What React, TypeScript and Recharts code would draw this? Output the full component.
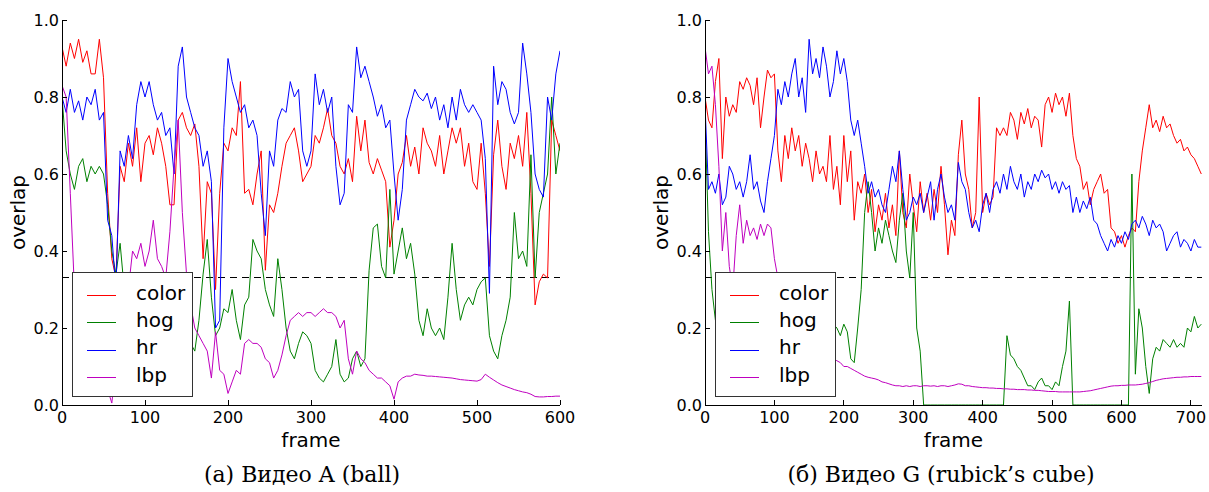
import { type ReactElement } from 'react';

import { Legend, Line, LineChart, ReferenceLine, XAxis, YAxis } from 'recharts';

const FONT = '"DejaVu Sans", "Bitstream Vera Sans", sans-serif';
const SERIF = '"DejaVu Serif", serif';
const TICK_LEN = 5;
const AXIS_LINE = { stroke: '#000', shapeRendering: 'crispEdges' } as const;

/** Frames are sampled every STEP frames in both videos. */
const STEP = 5;

// (a) Видео A (ball), frames 0..600
const COLOR_A = [
  0.93, 0.88, 0.94, 0.9, 0.95, 0.89, 0.92, 0.86, 0.86, 0.95,
  0.85, 0.55, 0.38, 0.33, 0.62, 0.58, 0.68, 0.62, 0.72, 0.58,
  0.68, 0.7, 0.65, 0.72, 0.68, 0.62, 0.52, 0.52, 0.74, 0.76,
  0.72, 0.7, 0.73, 0.62, 0.38, 0.58, 0.55, 0.3, 0.55, 0.68,
  0.66, 0.72, 0.7, 0.84, 0.55, 0.56, 0.52, 0.6, 0.66, 0.35,
  0.52, 0.5, 0.55, 0.62, 0.68, 0.7, 0.72, 0.66, 0.58, 0.6,
  0.62, 0.7, 0.68, 0.72, 0.77, 0.7, 0.68, 0.62, 0.6, 0.64,
  0.58, 0.75, 0.66, 0.74, 0.63, 0.6, 0.64, 0.61, 0.58, 0.41,
  0.48, 0.6, 0.63, 0.7, 0.62, 0.67, 0.6, 0.72, 0.68, 0.66,
  0.62, 0.7, 0.6, 0.66, 0.72, 0.68, 0.72, 0.62, 0.68, 0.58,
  0.56, 0.68, 0.55, 0.36, 0.65, 0.74, 0.62, 0.56, 0.68, 0.64,
  0.7, 0.62, 0.76, 0.55, 0.26, 0.32, 0.34, 0.33, 0.74, 0.7,
  0.66,
];
const HOG_A = [
  0.8, 0.66, 0.6, 0.56, 0.62, 0.64, 0.58, 0.62, 0.6, 0.62,
  0.6, 0.52, 0.4, 0.34, 0.42, 0.3, 0.26, 0.28, 0.22, 0.25,
  0.2, 0.24, 0.18, 0.22, 0.2, 0.18, 0.22, 0.2, 0.18, 0.22,
  0.2, 0.16, 0.14, 0.22, 0.34, 0.43, 0.28, 0.18, 0.2, 0.25,
  0.24, 0.3, 0.22, 0.17, 0.26, 0.28, 0.43, 0.4, 0.38, 0.3,
  0.26, 0.23, 0.38, 0.3, 0.2, 0.14, 0.12, 0.16, 0.19, 0.18,
  0.16, 0.09, 0.07, 0.06, 0.08, 0.1, 0.17, 0.08, 0.06, 0.07,
  0.12, 0.14, 0.1, 0.12, 0.35, 0.46, 0.47, 0.36, 0.33, 0.56,
  0.34, 0.4, 0.46, 0.38, 0.42, 0.34, 0.22, 0.18, 0.25, 0.2,
  0.18, 0.2, 0.17, 0.28, 0.42, 0.3, 0.22, 0.26, 0.28, 0.26,
  0.3, 0.32, 0.33, 0.18, 0.14, 0.12, 0.18, 0.22, 0.28, 0.5,
  0.38, 0.4, 0.36, 0.65, 0.33, 0.5, 0.55, 0.6, 0.8, 0.6,
  0.68,
];
const HR_A = [
  0.8, 0.76, 0.82, 0.76, 0.79, 0.74, 0.8, 0.78, 0.82, 0.74,
  0.76, 0.48, 0.44, 0.3, 0.66, 0.62, 0.7, 0.64, 0.78, 0.84,
  0.8, 0.84, 0.78, 0.74, 0.76, 0.7, 0.72, 0.6, 0.88, 0.93,
  0.8, 0.76, 0.72, 0.7, 0.62, 0.66, 0.58, 0.2, 0.22, 0.72,
  0.9, 0.84, 0.8, 0.76, 0.78, 0.72, 0.74, 0.7, 0.55, 0.44,
  0.66, 0.62, 0.74, 0.77, 0.76, 0.84, 0.8, 0.82, 0.66, 0.62,
  0.66, 0.86, 0.78, 0.82, 0.76, 0.8, 0.62, 0.52, 0.55, 0.78,
  0.76, 0.93, 0.85, 0.88, 0.84, 0.8, 0.75, 0.78, 0.72, 0.74,
  0.6, 0.48, 0.56, 0.74, 0.78, 0.82, 0.8, 0.79, 0.81, 0.77,
  0.8, 0.74, 0.78, 0.72, 0.8, 0.74, 0.82, 0.78, 0.76, 0.78,
  0.76, 0.74, 0.64, 0.29, 0.88, 0.78, 0.84, 0.82, 0.76, 0.73,
  0.76, 0.94, 0.86, 0.76, 0.6, 0.56, 0.54, 0.8, 0.74, 0.86,
  0.92,
];
const LBP_A = [
  0.83, 0.8, 0.55, 0.3, 0.22, 0.15, 0.1, 0.05, 0.12, 0.08,
  0.06, 0.04, 0.005, 0.1, 0.28, 0.32, 0.3, 0.4, 0.38, 0.42,
  0.36, 0.4, 0.48, 0.38, 0.36, 0.33, 0.45, 0.62, 0.74, 0.5,
  0.34, 0.26, 0.2, 0.18, 0.16, 0.14, 0.07, 0.19, 0.09, 0.08,
  0.03, 0.06, 0.09, 0.08, 0.16, 0.17, 0.16, 0.16, 0.15, 0.12,
  0.11, 0.07, 0.09, 0.13, 0.18, 0.22, 0.23, 0.24, 0.23, 0.24,
  0.24, 0.23, 0.24, 0.25, 0.24, 0.24, 0.23, 0.2, 0.22, 0.12,
  0.08, 0.14, 0.12, 0.11, 0.09, 0.08, 0.07, 0.07, 0.06, 0.05,
  0.015, 0.06, 0.07, 0.075, 0.075, 0.08, 0.078, 0.077, 0.075, 0.075,
  0.074, 0.073, 0.072, 0.071, 0.07, 0.068, 0.066, 0.065, 0.064, 0.063,
  0.062, 0.066, 0.08, 0.072, 0.065, 0.058, 0.052, 0.048, 0.044, 0.04,
  0.037, 0.034, 0.032, 0.028, 0.022, 0.021, 0.021, 0.022, 0.022, 0.023,
  0.023,
];

// (б) Видео G (rubick's cube), frames 0..715
const COLOR_G = [
  0.8, 0.74, 0.72, 0.84, 0.9, 0.64, 0.8, 0.75, 0.78, 0.76,
  0.84, 0.82, 0.85, 0.83, 0.78, 0.85, 0.72, 0.8, 0.87, 0.85,
  0.86, 0.66, 0.58, 0.7, 0.64, 0.72, 0.66, 0.7, 0.62, 0.68,
  0.64, 0.58, 0.66, 0.6, 0.62, 0.58, 0.7, 0.56, 0.62, 0.52,
  0.7, 0.58, 0.66, 0.48, 0.58, 0.55, 0.6, 0.5, 0.56, 0.45,
  0.52, 0.48, 0.55, 0.46, 0.52, 0.44, 0.66, 0.5, 0.46, 0.6,
  0.52, 0.45, 0.58, 0.5, 0.55, 0.48, 0.56, 0.5, 0.62, 0.52,
  0.39, 0.48, 0.44, 0.65, 0.74, 0.6, 0.56, 0.46, 0.5, 0.8,
  0.5, 0.55, 0.52, 0.54, 0.72, 0.7, 0.72, 0.7, 0.76, 0.74,
  0.69, 0.76, 0.73, 0.77, 0.72, 0.75, 0.74, 0.67, 0.78, 0.8,
  0.76, 0.81, 0.78, 0.8, 0.75, 0.81, 0.7, 0.64, 0.62, 0.56,
  0.58, 0.52, 0.56, 0.58, 0.6, 0.55, 0.56, 0.46, 0.45, 0.42,
  0.44, 0.41, 0.44, 0.46, 0.45, 0.58, 0.66, 0.72, 0.78, 0.72,
  0.74, 0.71, 0.75, 0.72, 0.73, 0.7, 0.68, 0.69, 0.66, 0.67,
  0.65, 0.64, 0.62, 0.6,
];
const HOG_G = [
  0.75, 0.45, 0.3, 0.22, 0.21, 0.2, 0.22, 0.19, 0.21, 0.2,
  0.18, 0.21, 0.2, 0.22, 0.19, 0.2, 0.21, 0.18, 0.2, 0.22,
  0.19, 0.2, 0.21, 0.19, 0.2, 0.22, 0.2, 0.19, 0.21, 0.2,
  0.18, 0.2, 0.21, 0.19, 0.2, 0.22, 0.2, 0.21, 0.2, 0.18,
  0.21, 0.19, 0.12, 0.11, 0.2, 0.3, 0.5, 0.58, 0.5, 0.4,
  0.46, 0.42, 0.48, 0.44, 0.4, 0.37, 0.48, 0.55, 0.4, 0.33,
  0.5, 0.2, 0.14, 0, 0, 0, 0, 0, 0, 0,
  0, 0, 0, 0, 0, 0, 0, 0, 0, 0,
  0, 0, 0, 0, 0, 0, 0, 0.18, 0.13, 0.12,
  0.1, 0.09, 0.07, 0.05, 0.05, 0.04, 0.06, 0.07, 0.05, 0.05,
  0.04, 0.06, 0.05, 0.1, 0.14, 0.27, 0, 0, 0, 0,
  0, 0, 0, 0, 0, 0, 0, 0, 0, 0,
  0, 0, 0, 0.6, 0.08, 0.25, 0.2, 0.1, 0.03, 0.12,
  0.15, 0.14, 0.17, 0.16, 0.15, 0.17, 0.15, 0.16, 0.15, 0.2,
  0.19, 0.23, 0.2, 0.21,
];
const HR_G = [
  0.78, 0.56, 0.58, 0.55, 0.6, 0.52, 0.54, 0.62, 0.6, 0.56,
  0.58, 0.54, 0.58, 0.65, 0.56, 0.58, 0.53, 0.5, 0.58, 0.64,
  0.7, 0.82, 0.78, 0.84, 0.8, 0.86, 0.9, 0.8, 0.85, 0.76,
  0.95, 0.86, 0.9, 0.85, 0.93, 0.88, 0.8, 0.84, 0.92, 0.86,
  0.9, 0.84, 0.74, 0.7, 0.74, 0.68, 0.62, 0.55, 0.58, 0.54,
  0.56, 0.52, 0.5, 0.56, 0.62, 0.58, 0.66, 0.56, 0.48, 0.5,
  0.54, 0.52, 0.55, 0.5, 0.54, 0.58, 0.48, 0.56, 0.6, 0.54,
  0.5, 0.52, 0.48, 0.63, 0.58, 0.56, 0.5, 0.46, 0.48, 0.45,
  0.52, 0.55, 0.5, 0.56, 0.58, 0.55, 0.6, 0.56, 0.62, 0.58,
  0.56, 0.6, 0.54, 0.58, 0.56, 0.6, 0.58, 0.61, 0.59, 0.6,
  0.56, 0.58, 0.55, 0.58, 0.56, 0.57, 0.5, 0.54, 0.5, 0.53,
  0.51, 0.54, 0.48, 0.47, 0.44, 0.42, 0.4, 0.43, 0.41, 0.44,
  0.42, 0.45, 0.43, 0.47, 0.48, 0.46, 0.49, 0.47, 0.44, 0.48,
  0.46, 0.47, 0.45, 0.4, 0.42, 0.44, 0.45, 0.41, 0.43, 0.42,
  0.4, 0.43, 0.41, 0.41,
];
const LBP_G = [
  0.93, 0.86, 0.88, 0.78, 0.62, 0.4, 0.5, 0.36, 0.3, 0.44,
  0.52, 0.42, 0.48, 0.44, 0.46, 0.43, 0.47, 0.44, 0.47, 0.46,
  0.38, 0.33, 0.28, 0.25, 0.22, 0.2, 0.18, 0.17, 0.16, 0.15,
  0.14, 0.14, 0.13, 0.13, 0.12, 0.12, 0.12, 0.12, 0.115, 0.11,
  0.1, 0.1, 0.095, 0.09, 0.085, 0.08, 0.075, 0.072, 0.07, 0.068,
  0.065, 0.06, 0.058, 0.055, 0.052, 0.05, 0.05, 0.048, 0.05, 0.048,
  0.05, 0.05, 0.048, 0.05, 0.05, 0.049, 0.05, 0.048, 0.05, 0.05,
  0.048, 0.05, 0.052, 0.055, 0.054, 0.05, 0.05, 0.048, 0.047, 0.046,
  0.045, 0.045, 0.044, 0.044, 0.043, 0.043, 0.042, 0.042, 0.041, 0.041,
  0.04, 0.04, 0.04, 0.039, 0.039, 0.038, 0.038, 0.037, 0.036, 0.035,
  0.035, 0.035, 0.034, 0.034, 0.034, 0.034, 0.034, 0.034, 0.034, 0.035,
  0.036, 0.037, 0.039, 0.041, 0.043, 0.045, 0.047, 0.049, 0.05, 0.05,
  0.051, 0.051, 0.052, 0.052, 0.052, 0.053, 0.054, 0.056, 0.058, 0.061,
  0.064, 0.066, 0.068, 0.069, 0.07, 0.071, 0.072, 0.072, 0.073, 0.073,
  0.074, 0.074, 0.074, 0.074,
];

const X_TICKS_A = [0, 100, 200, 300, 400, 500, 600];
const X_TICKS_G = [0, 100, 200, 300, 400, 500, 600, 700];
const Y_TICKS = [0, 0.2, 0.4, 0.6, 0.8, 1];
const THRESHOLD = 0.33;

const SERIES = [
  { key: 'color', stroke: '#ff0000' },
  { key: 'hog', stroke: '#008000' },
  { key: 'hr', stroke: '#0000ff' },
  { key: 'lbp', stroke: '#bf00bf' },
] as const;

interface Row {
  frame: number;
  color: number;
  hog: number;
  hr: number;
  lbp: number;
}

function buildRows(color: number[], hog: number[], hr: number[], lbp: number[]): Row[] {
  return color.map((value, i) => ({ frame: i * STEP, color: value, hog: hog[i], hr: hr[i], lbp: lbp[i] }));
}

// matplotlib-style ticks: short marks pointing into the plot
function BottomTick({ x, y, payload }: any): ReactElement {
  return (
    <g>
      <line x1={x} x2={x} y1={y} y2={y - TICK_LEN} stroke="#000" shapeRendering="crispEdges" />
      <text x={x} y={y + 18} textAnchor="middle" fontSize={16} fontFamily={FONT} fill="#000">
        {payload.value}
      </text>
    </g>
  );
}

function LeftTick({ x, y, payload }: any): ReactElement {
  return (
    <g>
      <line x1={x} x2={x + TICK_LEN} y1={y} y2={y} stroke="#000" shapeRendering="crispEdges" />
      <text x={x - 3} y={y} dy="0.36em" textAnchor="end" fontSize={16} fontFamily={FONT} fill="#000">
        {Number(payload.value).toFixed(1)}
      </text>
    </g>
  );
}

function TopTick({ x, y }: any): ReactElement {
  return <line x1={x} x2={x} y1={y} y2={y + TICK_LEN} stroke="#000" shapeRendering="crispEdges" />;
}

function RightTick({ x, y }: any): ReactElement {
  return <line x1={x} x2={x - TICK_LEN} y1={y} y2={y} stroke="#000" shapeRendering="crispEdges" />;
}

function FrameLabel({ viewBox }: any): ReactElement {
  return (
    <text x={viewBox.x + viewBox.width / 2} y={viewBox.y + 42} textAnchor="middle" fontSize={20} fontFamily={FONT} fill="#000">
      frame
    </text>
  );
}

function OverlapLabel({ viewBox }: any): ReactElement {
  const cx = viewBox.x + viewBox.width - 44;
  const cy = viewBox.y + viewBox.height / 2;
  return (
    <text
      x={cx}
      y={cy}
      transform={`rotate(-90 ${cx} ${cy})`}
      textAnchor="middle"
      dominantBaseline="central"
      fontSize={20}
      fontFamily={FONT}
      fill="#000"
    >
      overlap
    </text>
  );
}

function LegendBox(): ReactElement {
  return (
    <div
      style={{
        width: 121,
        height: 125,
        boxSizing: 'border-box',
        border: '1.5px solid #333',
        background: '#fff',
        position: 'relative',
        fontFamily: FONT,
        fontSize: 20,
        color: '#000',
      }}
    >
      {SERIES.map((s, i) => (
        <div
          key={s.key}
          style={{ position: 'absolute', left: 0, top: 9 + i * 27.4, height: 27, display: 'flex', alignItems: 'center' }}
        >
          <svg width={63} height={27} style={{ display: 'block' }}>
            <line x1={14} x2={43} y1={13.5} y2={13.5} stroke={s.stroke} strokeWidth={1} />
          </svg>
          <span style={{ position: 'relative', top: -3, lineHeight: '24px' }}>{s.key}</span>
        </div>
      ))}
    </div>
  );
}

interface PanelProps {
  rows: Row[];
  xMax: number;
  xTicks: number[];
  left: number;
  width: number;
  axisWidth: number;
  marginRight: number;
  legendLeft: number;
  captionCenter: number;
  caption: string;
}

function Panel(p: PanelProps): ReactElement {
  return (
    <div style={{ position: 'absolute', left: p.left, top: 0, width: p.width, height: 492 }}>
      <LineChart width={p.width} height={460} data={p.rows} margin={{ top: 20, right: p.marginRight, bottom: 15, left: 0 }}>
        <XAxis
          dataKey="frame"
          type="number"
          domain={[0, p.xMax]}
          ticks={p.xTicks}
          interval={0}
          allowDataOverflow
          height={40}
          tickSize={0}
          tickMargin={0}
          tick={BottomTick}
          axisLine={AXIS_LINE}
          label={{ value: 'frame', content: FrameLabel }}
        />
        <XAxis
          xAxisId="top"
          orientation="top"
          type="number"
          domain={[0, p.xMax]}
          ticks={p.xTicks}
          interval={0}
          allowDataOverflow
          height={0}
          tickSize={0}
          tickMargin={0}
          tick={TopTick}
          axisLine={AXIS_LINE}
        />
        <YAxis
          type="number"
          domain={[0, 1]}
          ticks={Y_TICKS}
          interval={0}
          allowDataOverflow
          width={p.axisWidth}
          tickSize={0}
          tickMargin={0}
          tick={LeftTick}
          axisLine={AXIS_LINE}
          label={{ value: 'overlap', content: OverlapLabel }}
        />
        <YAxis
          yAxisId="right"
          orientation="right"
          type="number"
          domain={[0, 1]}
          ticks={Y_TICKS}
          interval={0}
          allowDataOverflow
          width={0}
          tickSize={0}
          tickMargin={0}
          tick={RightTick}
          axisLine={AXIS_LINE}
        />
        <ReferenceLine y={THRESHOLD} stroke="#000" strokeDasharray="7 5" shapeRendering="crispEdges" />
        {SERIES.map((s) => (
          <Line
            key={s.key}
            type="linear"
            dataKey={s.key}
            name={s.key}
            stroke={s.stroke}
            strokeWidth={1}
            dot={false}
            activeDot={false}
            isAnimationActive={false}
          />
        ))}
        <Legend
          layout="vertical"
          verticalAlign="middle"
          align="center"
          content={LegendBox}
          wrapperStyle={{ left: p.legendLeft, top: 272, width: 121, height: 125 }}
        />
      </LineChart>
      <div
        style={{
          position: 'absolute',
          left: p.captionCenter - 250,
          width: 500,
          top: 462,
          textAlign: 'center',
          fontFamily: SERIF,
          fontSize: 22,
          lineHeight: '26px',
          color: '#000',
        }}
      >
        {p.caption}
      </div>
    </div>
  );
}

export default function App(): ReactElement {
  const rowsA = buildRows(COLOR_A, HOG_A, HR_A, LBP_A);
  const rowsG = buildRows(COLOR_G, HOG_G, HR_G, LBP_G);
  return (
    <div style={{ position: 'absolute', left: 0, top: 0, width: 1209, height: 492, background: '#fff' }}>
      <Panel
        rows={rowsA}
        xMax={600}
        xTicks={X_TICKS_A}
        left={0}
        width={600}
        axisWidth={62}
        marginRight={40}
        legendLeft={72}
        captionCenter={302}
        caption="(a) Видео A (ball)"
      />
      <Panel
        rows={rowsG}
        xMax={716}
        xTicks={X_TICKS_G}
        left={600}
        width={609}
        axisWidth={105}
        marginRight={7}
        legendLeft={115}
        captionCenter={341}
        caption="(б) Видео G (rubick’s cube)"
      />
    </div>
  );
}
